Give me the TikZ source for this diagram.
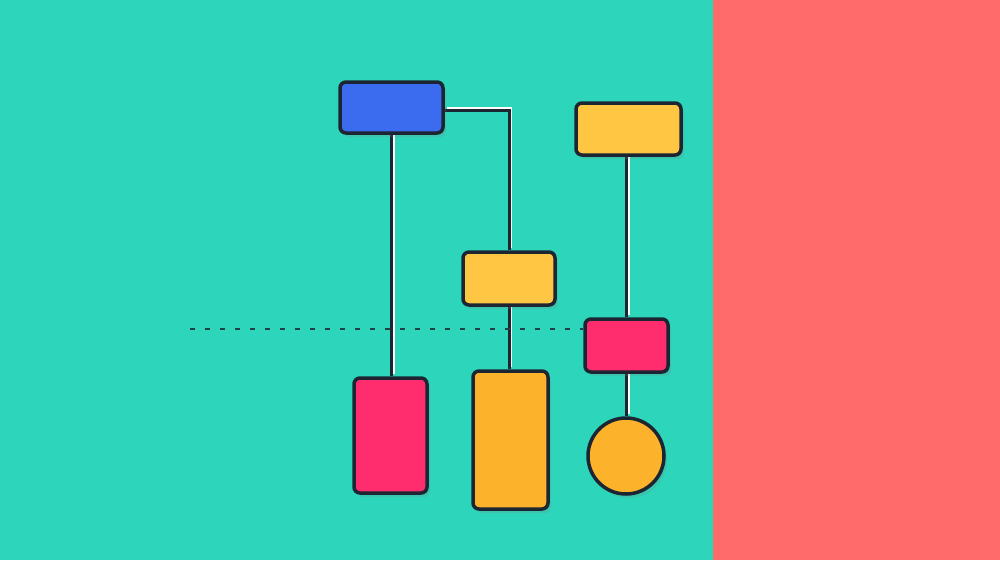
\documentclass[tikz,border=0pt]{standalone}
\usetikzlibrary{shadows}
\definecolor{teal}{HTML}{2DD5BA}
\definecolor{coral}{HTML}{FF6B6B}
\definecolor{bbox}{HTML}{3B6CF0}
\definecolor{ybox}{HTML}{FFC643}
\definecolor{pbox}{HTML}{FF2D6E}
\definecolor{obox}{HTML}{FDB22B}
\definecolor{edge}{HTML}{1C2633}
\pgfdeclarelayer{bg}
\pgfdeclarelayer{lines}
\pgfsetlayers{bg,lines,main}
\tikzset{
  card/.style={draw=edge, line width=3.5pt, rounded corners=6pt, inner sep=0pt,
    drop shadow={opacity=0.2, shadow xshift=3pt, shadow yshift=-4pt}},
  disc/.style={circle, draw=edge, line width=3.5pt, inner sep=0pt,
    drop shadow={opacity=0.2, shadow xshift=3pt, shadow yshift=-4pt}},
  wire/.style={draw=edge, line width=3pt},
  glint/.style={draw=white, line width=2.2pt, transform canvas={xshift=2.2pt, yshift=2.2pt}},
  dashline/.style={draw=edge!85!teal, line width=1.8pt, dash pattern=on 5pt off 10pt}
}
\begin{document}
\begin{tikzpicture}[x=1pt,y=-1pt]
\begin{pgfonlayer}{bg}
  \fill[teal] (0,0) rectangle (713,560);
  \fill[coral] (713,0) rectangle (1000,560);
\end{pgfonlayer}
\useasboundingbox (0,0) rectangle (1000,560);

\node[card, fill=bbox, minimum width=103pt, minimum height=51pt] (blue) at (391.5,107.5) {};
\node[card, fill=ybox, minimum width=105pt, minimum height=52pt] (ytop) at (628.5,129) {};
\node[card, fill=ybox, minimum width=92pt, minimum height=53pt] (ymid) at (509,278.5) {};
\node[card, fill=pbox, minimum width=83pt, minimum height=53pt] (pinkr) at (626.5,345.5) {};
\node[card, fill=pbox, minimum width=73pt, minimum height=115pt] (pinkl) at (390.5,435.5) {};
\node[card, fill=obox, minimum width=75pt, minimum height=138pt] (ybot) at (510.5,440) {};
\node[disc, fill=obox, minimum size=76pt] (circ) at (626,456) {};

\coordinate (dashstart) at (190,329);

\begin{pgfonlayer}{lines}
  \foreach \st in {glint,wire}{
    \draw[\st] (blue.south) -- (blue.south |- pinkl.north);
    \draw[\st] ([yshift=-3pt]blue.east) -| (ymid.north);
    \draw[\st] (ymid.south) -- (ymid.south |- ybot.north);
    \draw[\st] (pinkr.north |- ytop.south) -- (pinkr.north);
    \draw[\st] (pinkr.south) -- (pinkr.south |- circ.north);
  }
\end{pgfonlayer}
\draw[dashline] (dashstart) -- (dashstart -| pinkr.west);
\end{tikzpicture}
\end{document}
